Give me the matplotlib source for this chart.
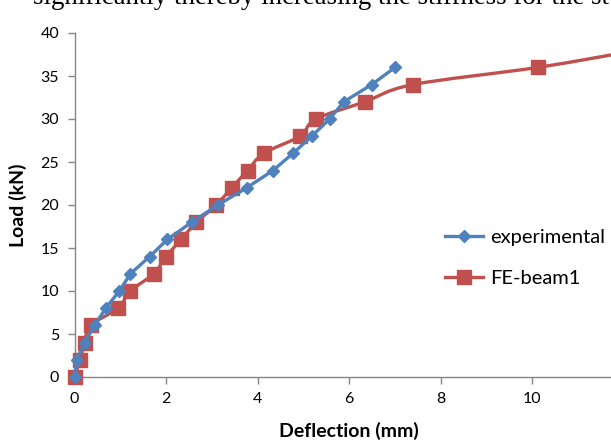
import numpy as np
import matplotlib
matplotlib.use("Agg")
import matplotlib.pyplot as plt
from matplotlib.path import Path
from matplotlib.patches import PathPatch

exp_x = [0, 0.05, 0.22, 0.44, 0.68, 0.98, 1.22, 1.64, 2.03, 2.56, 3.13, 3.76, 4.33, 4.77, 5.18, 5.57, 5.88, 6.49, 7.0]
exp_y = [0, 2, 4, 6, 8, 10, 12, 14, 16, 18, 20, 22, 24, 26, 28, 30, 32, 34, 36]
fe_x = [0, 0.12, 0.22, 0.35, 0.95, 1.22, 1.73, 2.0, 2.33, 2.66, 3.1, 3.43, 3.78, 4.13, 4.92, 5.27, 6.34, 7.39, 10.12, 12.3]
fe_y = [0, 2, 4, 6, 8, 10, 12, 14, 16, 18, 20, 22, 24, 26, 28, 30, 32, 34, 36, 38]
x_ticks = [0, 2, 4, 6, 8, 10]
y_ticks = [0, 5, 10, 15, 20, 25, 30, 35, 40]

BLUE = "#4F81BD"
RED = "#C0504D"
FONT = "Lato"

W, H = 611, 441
fig = plt.figure(figsize=(W / 100, H / 100), dpi=100)
# axes extend past right edge (cropped chart)
x0, x1 = 74.5, 624
y0, y1 = 377, 33
ax = fig.add_axes([x0 / W, 1 - y0 / H, (x1 - x0) / W, (y0 - y1) / H])
ax.set_xlim(0, 12)
ax.set_ylim(0, 40)


def smooth_path(xs, ys, tension=1 / 6):
    xs = np.asarray(xs, float)
    ys = np.asarray(ys, float)
    pts = np.column_stack([xs, ys])
    verts = [pts[0]]
    codes = [Path.MOVETO]
    n = len(pts)
    for i in range(n - 1):
        p0 = pts[i - 1] if i > 0 else pts[i]
        p1 = pts[i]
        p2 = pts[i + 1]
        p3 = pts[i + 2] if i + 2 < n else pts[i + 1]
        c1 = p1 + (p2 - p0) * tension
        c2 = p2 - (p3 - p1) * tension
        verts += [c1, c2, p2]
        codes += [Path.CURVE4] * 3
    return Path(verts, codes)


# FE-beam1 smoothed line
ax.add_patch(PathPatch(smooth_path(fe_x, fe_y), facecolor="none", edgecolor=RED,
                       lw=2.4, zorder=2, clip_on=True))
ax.plot(fe_x, fe_y, ls="none", marker="s", ms=9.5, color=RED, zorder=3, clip_on=False)
ax.plot([], [], color=RED, lw=2.4, marker="s", ms=9.5, label="FE-beam1")

# experimental
ax.plot(exp_x, exp_y, color=BLUE, lw=2.4, marker="D", ms=6.5, zorder=4,
        label="experimental", clip_on=False)

for s in ["top", "right"]:
    ax.spines[s].set_visible(False)
for s in ["left", "bottom"]:
    ax.spines[s].set_color("#868686")
    ax.spines[s].set_linewidth(1.0)
ax.set_xticks(x_ticks)
ax.set_yticks(y_ticks)
ax.tick_params(axis="both", direction="out", length=5, width=1, color="#868686",
               labelsize=11.5, pad=6)
for lab in ax.get_xticklabels() + ax.get_yticklabels():
    lab.set_fontfamily(FONT)
ax.set_xlabel("Deflection (mm)", fontsize=14, fontweight="bold", family=FONT, labelpad=11)
ax.set_ylabel("Load (kN)", fontsize=14, fontweight="bold", family=FONT, labelpad=10)

handles, labels = ax.get_legend_handles_labels()
order = [labels.index("experimental"), labels.index("FE-beam1")]
leg = fig.legend([handles[i] for i in order], [labels[i] for i in order],
                 loc="center left", bbox_to_anchor=(445 / W, 1 - 258 / H),
                 frameon=False, prop={"family": FONT, "size": 14.5},
                 handlelength=1.9, handletextpad=0.35, labelspacing=1.2,
                 borderaxespad=0, borderpad=0)

fig.text(33 / W, 1 - 4 / H, "significantly thereby increasing the stiffness for the st",
         family="Liberation Serif", fontsize=19.4, va="baseline", ha="left")

fig.savefig("out.png", dpi=100)
